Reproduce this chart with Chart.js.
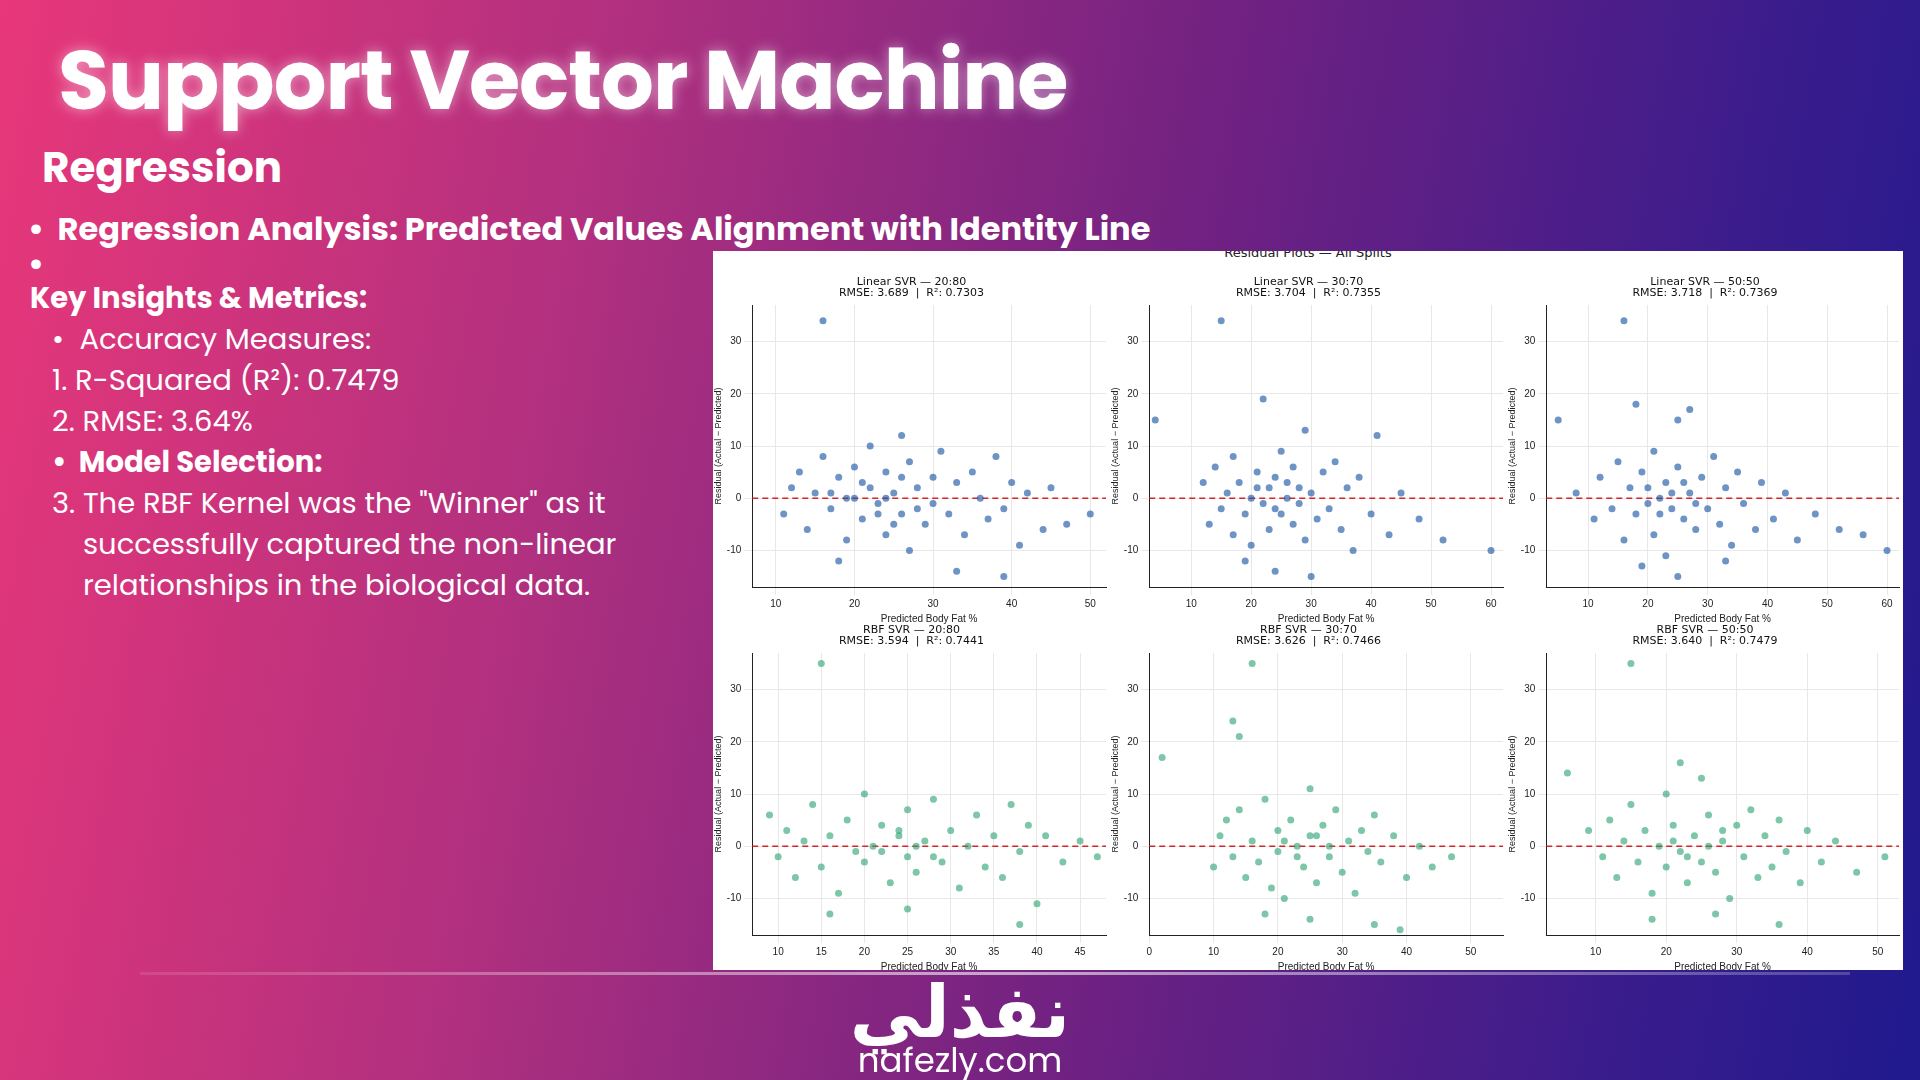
<!DOCTYPE html>
<html><head><meta charset="utf-8">
<script src="https://cdn.jsdelivr.net/npm/chart.js@4"></script>
<style>
body{margin:0;width:1920px;height:1080px;overflow:hidden;font-family:Poppins,"Open Sans",sans-serif;
background:linear-gradient(100deg,#e8377a 0%,#b0307f 30%,#6e2182 60%,#3a1c8c 85%,#1f1a8e 100%);position:relative;color:#fff}
h1{position:absolute;left:58px;top:18px;margin:0;font-size:83px;font-weight:700;letter-spacing:-1px;text-shadow:0 0 14px rgba(255,255,255,.5)}
.sub{position:absolute;left:42px;top:136px;font-size:42px;font-weight:700}
.b1{position:absolute;left:28px;top:205px;font-size:32px;font-weight:700}
.dot{position:absolute;left:28px;top:240px;font-size:32px;font-weight:700}
.left{position:absolute;left:30px;top:278px;font-size:29px;line-height:41px}
.panel{position:absolute;left:713px;top:251px;width:1190px;height:719px;background:#fff;overflow:hidden}
.grid{position:absolute;left:0;top:26px;display:grid;grid-template-columns:397px 397px 396px;grid-template-rows:348px 348px}
.cell{position:relative}
.sup{position:absolute;top:-6px;width:100%;text-align:center;color:#222;font:13px "DejaVu Sans"}
.line{position:absolute;left:140px;top:972px;width:1710px;height:3px;background:linear-gradient(90deg,rgba(255,255,255,.1),rgba(255,255,255,.6),rgba(255,255,255,.2))}
.logo{position:absolute;left:0;width:1920px;text-align:center}
</style></head><body>
<h1>Support Vector Machine</h1>
<div class="sub">Regression</div>
<div class="b1">•&nbsp; Regression Analysis: Predicted Values Alignment with Identity Line</div>
<div class="dot">•</div>
<div class="left">
<div style="font-weight:700">Key Insights &amp; Metrics:</div>
<div style="padding-left:22px">•&nbsp; Accuracy Measures:</div>
<div style="padding-left:22px">1. R-Squared (R²): 0.7479</div>
<div style="padding-left:22px">2. RMSE: 3.64%</div>
<div style="padding-left:22px;font-weight:700">•&nbsp; Model Selection:</div>
<div style="padding-left:22px">3. The RBF Kernel was the "Winner" as it<br>&nbsp;&nbsp;&nbsp;&nbsp;successfully captured the non-linear<br>&nbsp;&nbsp;&nbsp;&nbsp;relationships in the biological data.</div>
</div>
<div class="panel"><div class="sup">Residual Plots — All Splits</div><div class="grid" id="g"></div></div>
<div class="line"></div>
<div class="logo" style="top:960px;font-size:72px;font-weight:700;font-family:'Noto Sans','DejaVu Sans'">نفذلي</div>
<div class="logo" style="top:1035px;font-size:34px">nafezly.com</div>
<script>
const titles = ['Linear SVR — 20:80\nRMSE: 3.689  |  R²: 0.7303','Linear SVR — 30:70\nRMSE: 3.704  |  R²: 0.7355','Linear SVR — 50:50\nRMSE: 3.718  |  R²: 0.7369',
 'RBF SVR — 20:80\nRMSE: 3.594  |  R²: 0.7441','RBF SVR — 30:70\nRMSE: 3.626  |  R²: 0.7466','RBF SVR — 50:50\nRMSE: 3.640  |  R²: 0.7479'];
const xRanges = [[7,52],[3,62],[3,62],[7,48],[0,55],[3,53]];
const xTicks = [[10,20,30,40,50],[10,20,30,40,50,60],[10,20,30,40,50,60],[10,15,20,25,30,35,40,45],[0,10,20,30,40,50],[10,20,30,40,50]];
const yTicks = [-10,0,10,20,30];
const colors = ['rgba(31,90,165,0.65)','rgba(31,90,165,0.65)','rgba(31,90,165,0.65)','rgba(38,160,110,0.6)','rgba(38,160,110,0.6)','rgba(38,160,110,0.6)'];
const lin20 = [[16,34],[11,-3],[12,2],[13,5],[14,-6],[15,1],[16,8],[17,-2],[18,4],[19,-8],[20,0],[20,6],[21,-4],[22,2],[22,10],[23,-1],[24,5],[24,-7],[25,1],[26,-3],[27,7],[27,-10],[28,2],[29,-5],[30,4],[30,-1],[31,9],[32,-3],[33,3],[34,-7],[35,5],[36,0],[37,-4],[38,8],[39,-2],[40,3],[41,-9],[42,1],[44,-6],[45,2],[47,-5],[50,-3],[18,-12],[26,12],[33,-14],[39,-15],[19,0],[21,3],[23,-3],[25,-5],[26,4],[28,-2],[17,1],[24,0]];
const lin30 = [[15,34],[4,15],[60,-10],[12,3],[13,-5],[14,6],[15,-2],[16,1],[17,8],[17,-7],[18,3],[19,-3],[20,0],[20,-9],[21,5],[22,-1],[22,19],[23,2],[23,-6],[24,4],[25,-3],[25,9],[26,0],[27,-5],[27,6],[28,2],[29,-8],[29,13],[30,1],[31,-4],[32,5],[33,-2],[34,7],[35,-6],[36,2],[37,-10],[38,4],[40,-3],[41,12],[43,-7],[45,1],[48,-4],[52,-8],[19,-12],[24,-14],[30,-15],[21,2],[24,-2],[26,3],[28,-1]];
const lin50 = [[16,34],[5,15],[60,-10],[8,1],[11,-4],[12,4],[14,-2],[15,7],[16,-8],[17,2],[18,-3],[18,18],[19,5],[20,-1],[21,9],[21,-7],[22,0],[23,3],[23,-11],[24,-2],[25,6],[25,15],[26,-4],[27,1],[27,17],[28,-6],[29,4],[30,-2],[31,8],[32,-5],[33,2],[34,-9],[35,5],[36,-1],[38,-6],[39,3],[41,-4],[43,1],[45,-8],[48,-3],[52,-6],[56,-7],[19,-13],[25,-15],[33,-12],[20,2],[22,-3],[24,1],[26,3],[28,-1]];
const rbf20 = [[15,35],[9,6],[10,-2],[11,3],[12,-6],[13,1],[14,8],[15,-4],[16,2],[17,-9],[18,5],[19,-1],[20,10],[20,-3],[21,0],[22,4],[23,-7],[24,2],[25,-2],[25,7],[26,-5],[27,1],[28,9],[29,-3],[30,3],[31,-8],[32,0],[33,6],[34,-4],[35,2],[36,-6],[37,8],[38,-1],[39,4],[40,-11],[41,2],[43,-3],[45,1],[47,-2],[16,-13],[25,-12],[38,-15],[22,-1],[24,3],[26,0],[28,-2]];
const rbf30 = [[16,35],[2,17],[13,24],[14,21],[10,-4],[11,2],[12,5],[13,-2],[14,7],[15,-6],[16,1],[17,-3],[18,9],[19,-8],[20,3],[20,-1],[21,-10],[22,5],[23,0],[24,-4],[25,11],[25,2],[26,-7],[27,4],[28,-2],[29,7],[30,-5],[31,1],[32,-9],[33,3],[34,-1],[35,6],[36,-3],[38,2],[40,-6],[42,0],[44,-4],[47,-2],[18,-13],[25,-14],[35,-15],[39,-16],[21,1],[23,-2],[26,2],[28,0]];
const rbf50 = [[15,35],[6,14],[9,3],[11,-2],[12,5],[13,-6],[14,1],[15,8],[16,-3],[17,3],[18,-9],[19,0],[20,10],[20,-4],[21,4],[22,-1],[22,16],[23,-7],[24,2],[25,-3],[25,13],[26,6],[27,-5],[28,1],[29,-10],[30,4],[31,-2],[32,7],[33,-6],[34,2],[35,-4],[36,5],[37,-1],[39,-7],[40,3],[42,-3],[44,1],[47,-5],[51,-2],[18,-14],[27,-13],[36,-15],[21,1],[23,-2],[26,0],[28,3]];
const sets = [lin20,lin30,lin50,rbf20,rbf30,rbf50];
const g = document.getElementById('g');
sets.forEach((pts,i)=>{
  const d = document.createElement('div'); d.className='cell';
  const c = document.createElement('canvas'); d.appendChild(c); g.appendChild(d);
  const [x0,x1] = xRanges[i];
  new Chart(c,{data:{datasets:[
    {type:'scatter',data:pts.map(p=>({x:p[0],y:p[1]})),backgroundColor:colors[i],borderWidth:0,pointRadius:3.5},
    {type:'line',data:[{x:x0,y:0},{x:x1,y:0}],borderColor:'#d62728',borderDash:[6,4],borderWidth:1.5,pointRadius:0}
  ]},options:{animation:false,responsive:true,maintainAspectRatio:false,
    plugins:{legend:{display:false},title:{display:true,text:titles[i].split('\n'),color:'#111',font:{size:11,family:'DejaVu Sans',weight:'normal',lineHeight:1},padding:{top:0,bottom:6}}},
    scales:{x:{type:'linear',min:x0,max:x1,afterBuildTicks:a=>{a.ticks=xTicks[i].map(v=>({value:v}))},ticks:{color:'#222',font:{size:10}},grid:{color:'#e8e8e8'},border:{color:'#222'},
        title:{display:true,text:'Predicted Body Fat %',color:'#222',font:{size:10},padding:0}},
      y:{min:-17,max:37,afterBuildTicks:a=>{a.ticks=yTicks.map(v=>({value:v}))},ticks:{color:'#222',font:{size:10}},grid:{color:'#e8e8e8'},border:{color:'#222'},
        title:{display:true,text:'Residual (Actual − Predicted)',color:'#222',font:{size:9},padding:0}}}}});
});
</script>
</body></html>
